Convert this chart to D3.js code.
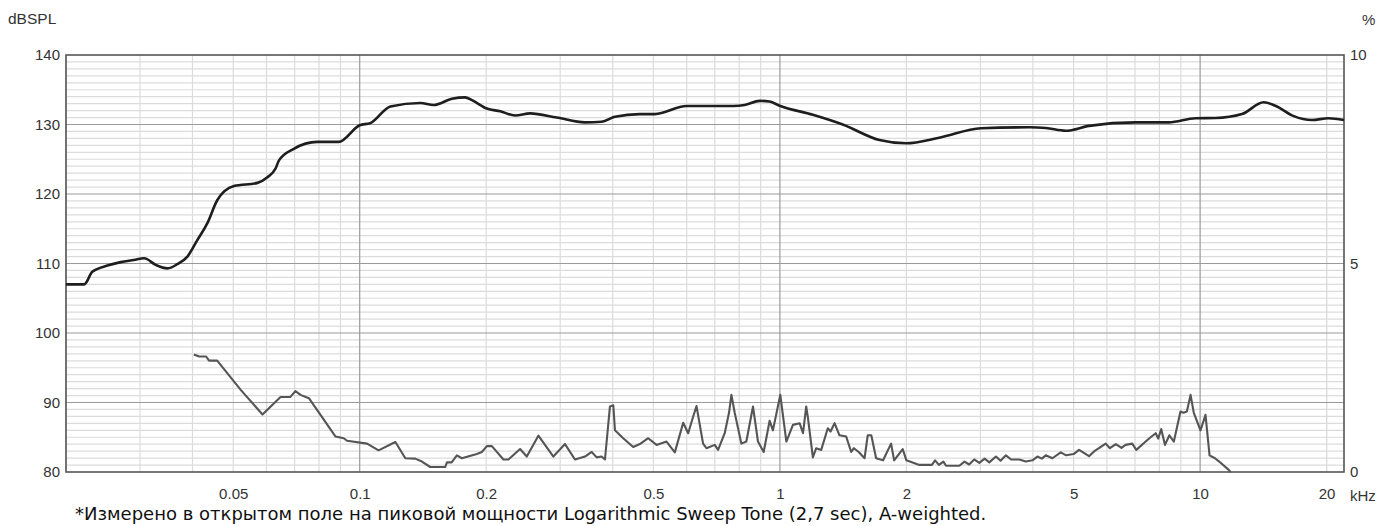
<!DOCTYPE html>
<html>
<head>
<meta charset="utf-8">
<script src="https://cdn.jsdelivr.net/npm/d3@7"></script>
<style>
  body { margin: 0; background: #fff; }
  svg text { font-family: "Liberation Sans", Arial, sans-serif; }
</style>
</head>
<body>
<svg class="chart"></svg>
<script>
const size = {w: 1377, h: 526};
const margin = {top: 55, right: 33, bottom: 54, left: 66};

// frequency response, kHz / dBSPL
const splFreq = [0.02, 0.0221, 0.0231, 0.0251, 0.027, 0.029, 0.0307, 0.0327, 0.0349, 0.0368,
  0.0389, 0.0411, 0.0434, 0.0458, 0.0502, 0.0571, 0.0603, 0.0631, 0.0642, 0.0697,
  0.0792, 0.0891, 0.1, 0.106, 0.1183, 0.1394, 0.15, 0.1658, 0.1782, 0.185,
  0.2007, 0.216, 0.2343, 0.2544, 0.2943, 0.3437, 0.3765, 0.405, 0.4642, 0.504,
  0.5994, 0.7735, 0.8244, 0.895, 0.945, 0.998, 1.198, 1.411, 1.725, 1.996,
  2.394, 3.009, 3.918, 4.293, 4.788, 5.441, 7.022, 8.428, 9.75, 10.88,
  12.58, 14.17, 15.1, 16.7, 18.45, 20.2, 22];
const splDb = [107.0, 107.0, 108.8, 109.7, 110.2, 110.5, 110.75, 109.8, 109.3, 109.9,
  111.0, 113.4, 115.8, 119.1, 121.15, 121.6, 122.4, 123.7, 124.8, 126.5,
  127.5, 127.5, 129.9, 130.2, 132.6, 133.1, 132.8, 133.7, 133.9, 133.5,
  132.3, 131.9, 131.3, 131.6, 131.0, 130.3, 130.4, 131.1, 131.5, 131.5,
  132.66, 132.66, 132.8, 133.4, 133.3, 132.7, 131.4, 130.0, 127.77, 127.3,
  128.1, 129.45, 129.6, 129.5, 129.1, 129.8, 130.3, 130.3, 130.9, 130.93,
  131.5, 133.2, 132.7, 131.2, 130.65, 130.9, 130.65];

// distortion, kHz / %
const thdFreq = [0.0403, 0.0415, 0.0431, 0.0438, 0.0458, 0.0521, 0.0587, 0.0648, 0.0684, 0.0703,
  0.0723, 0.0757, 0.0876, 0.0916, 0.0933, 0.1041, 0.1109, 0.1216, 0.1284, 0.1356,
  0.1406, 0.1472, 0.1598, 0.1613, 0.1655, 0.1703, 0.175, 0.19, 0.1953, 0.2007,
  0.2063, 0.2198, 0.2259, 0.2408, 0.2498, 0.2662, 0.289, 0.308, 0.3253, 0.3437,
  0.3565, 0.3664, 0.3764, 0.3834, 0.394, 0.4013, 0.405, 0.4237, 0.4476, 0.4642,
  0.4859, 0.5086, 0.5373, 0.5622, 0.5886, 0.6049, 0.6217, 0.6332, 0.6564, 0.6686,
  0.6999, 0.7126, 0.739, 0.7566, 0.7666, 0.7806, 0.8096, 0.832, 0.8629, 0.8868,
  0.9149, 0.9452, 0.9625, 1.002, 1.036, 1.074, 1.114, 1.135, 1.155, 1.165,
  1.198, 1.22, 1.254, 1.3, 1.32, 1.349, 1.386, 1.438, 1.478, 1.5,
  1.54, 1.59, 1.618, 1.65, 1.694, 1.76, 1.839, 1.87, 1.96, 2.0,
  2.147, 2.3, 2.34, 2.39, 2.45, 2.485, 2.673, 2.75, 2.82, 2.9,
  2.982, 3.07, 3.15, 3.266, 3.35, 3.45, 3.55, 3.71, 3.85, 3.99,
  4.1, 4.2, 4.293, 4.45, 4.66, 4.8, 5.0, 5.15, 5.3, 5.44,
  5.6, 5.745, 5.96, 6.1, 6.3, 6.5, 6.647, 6.895, 7.05, 7.42,
  7.6, 7.84, 7.95, 8.08, 8.25, 8.45, 8.66, 8.98, 9.13, 9.3,
  9.49, 9.66, 10.02, 10.3, 10.53, 10.85, 11.1, 11.7, 11.81];
const thdPct = [2.82, 2.77, 2.77, 2.67, 2.67, 1.97, 1.38, 1.80, 1.80, 1.94,
  1.85, 1.77, 0.85, 0.81, 0.75, 0.68, 0.52, 0.72, 0.33, 0.32,
  0.25, 0.12, 0.12, 0.23, 0.23, 0.40, 0.33, 0.43, 0.48, 0.62,
  0.62, 0.30, 0.30, 0.55, 0.37, 0.87, 0.37, 0.67, 0.30, 0.37,
  0.48, 0.35, 0.37, 0.30, 1.57, 1.60, 1.00, 0.81, 0.60, 0.67,
  0.81, 0.65, 0.73, 0.47, 1.18, 0.93, 1.33, 1.58, 0.68, 0.57,
  0.65, 0.53, 0.93, 1.42, 1.85, 1.42, 0.68, 0.73, 1.57, 0.73,
  0.48, 1.23, 1.00, 1.85, 0.73, 1.13, 1.17, 0.93, 1.57, 1.33,
  0.35, 0.57, 0.53, 1.05, 0.97, 1.17, 0.88, 0.85, 0.48, 0.57,
  0.48, 0.33, 0.88, 0.88, 0.33, 0.28, 0.68, 0.28, 0.55, 0.28,
  0.17, 0.17, 0.28, 0.17, 0.25, 0.15, 0.15, 0.25, 0.18, 0.30,
  0.22, 0.32, 0.23, 0.37, 0.27, 0.40, 0.30, 0.30, 0.25, 0.28,
  0.37, 0.32, 0.40, 0.33, 0.47, 0.40, 0.43, 0.53, 0.45, 0.38,
  0.50, 0.57, 0.68, 0.57, 0.67, 0.58, 0.65, 0.68, 0.53, 0.73,
  0.82, 0.93, 0.80, 1.03, 0.65, 0.88, 0.73, 1.45, 1.42, 1.45,
  1.85, 1.42, 1.00, 1.37, 0.40, 0.33, 0.25, 0.05, 0.00];

// axis ticks
const dbTicks = [80, 90, 100, 110, 120, 130, 140];
const pctTicks = [0, 5, 10];
const freqLabels = [0.05, 0.1, 0.2, 0.5, 1, 2, 5, 10, 20];
const freqMajor = [0.1, 1, 10];
const footnote = '*Измерено в открытом поле на пиковой мощности Logarithmic Sweep Tone (2,7 sec), A-weighted.';

const svg = d3.select('svg.chart')
    .attr('width', size.w)
    .attr('height', size.h);

const x = d3.scaleLog()
    .domain([0.02, 22])
    .range([margin.left, size.w - margin.right]);
const y = d3.scaleLinear()
    .domain([80, 140])
    .range([size.h - margin.bottom, margin.top]);
const yPct = d3.scaleLinear()
    .domain([0, 10])
    .range([size.h - margin.bottom, margin.top]);

const x0 = x.range()[0], x1 = x.range()[1];
const y0 = y.range()[0], y1 = y.range()[1];

// --- grid ---
const gridG = svg.append('g').classed('grid', true);

// minor frequency lines 0.02..20 kHz
let minorFreq = [];
[0.01, 0.1, 1, 10].forEach(dec => {
    for (let k = 2; k <= 9; k++) {
        const f = dec * k;
        if (f >= 0.02 && f <= 22) minorFreq.push(f);
    }
});
minorFreq.push(20);
minorFreq = minorFreq.filter(f => f < 22);

gridG.selectAll('line.vminor')
    .data(minorFreq)
    .join('line')
    .attr('x1', d => x(d)).attr('x2', d => x(d))
    .attr('y1', y1).attr('y2', y0)
    .attr('stroke', '#dcdcdc')
    .attr('stroke-width', 1.2);

// 1 dB horizontal lines
gridG.selectAll('line.hminor')
    .data(d3.range(81, 140).filter(v => v % 10 !== 0))
    .join('line')
    .attr('x1', x0).attr('x2', x1)
    .attr('y1', d => y(d)).attr('y2', d => y(d))
    .attr('stroke', '#dcdcdc')
    .attr('stroke-width', 1.2);

gridG.selectAll('line.vmajor')
    .data(freqMajor)
    .join('line')
    .attr('x1', d => x(d)).attr('x2', d => x(d))
    .attr('y1', y1).attr('y2', y0)
    .attr('stroke', '#9a9a9a')
    .attr('stroke-width', 1.2);

gridG.selectAll('line.hmajor')
    .data(dbTicks.slice(1, -1))
    .join('line')
    .attr('x1', x0).attr('x2', x1)
    .attr('y1', d => y(d)).attr('y2', d => y(d))
    .attr('stroke', '#9a9a9a')
    .attr('stroke-width', 1.2);

// frame
svg.append('rect')
    .attr('x', x0).attr('y', y1)
    .attr('width', x1 - x0).attr('height', y0 - y1)
    .attr('fill', 'none')
    .attr('stroke', '#555')
    .attr('stroke-width', 1.6);

// --- curves ---
const splLine = d3.line()
    .x((d, i) => x(splFreq[i]))
    .y(d => y(d))
    .curve(d3.curveMonotoneX);

const thdLine = d3.line()
    .x((d, i) => x(thdFreq[i]))
    .y(d => yPct(d));

svg.append('path')
    .datum(thdPct)
    .attr('d', thdLine)
    .attr('fill', 'none')
    .attr('stroke', '#555')
    .attr('stroke-width', 2.1)
    .attr('stroke-linejoin', 'round');

svg.append('path')
    .datum(splDb)
    .attr('d', splLine)
    .attr('fill', 'none')
    .attr('stroke', '#1e1e1e')
    .attr('stroke-width', 2.6)
    .attr('stroke-linejoin', 'round');

// --- axes (labels only) ---
const labelFont = '"Liberation Sans", Arial, sans-serif';

const leftAxis = d3.axisLeft(y).tickValues(dbTicks).tickSize(0).tickPadding(6);
svg.append('g')
    .attr('transform', `translate(${x0},0)`)
    .call(leftAxis)
    .call(g => g.select('.domain').remove())
    .selectAll('text')
    .attr('font-size', 15).attr('fill', '#333')
    .style('font-family', labelFont);

const rightAxis = d3.axisRight(yPct).tickValues(pctTicks).tickSize(0).tickPadding(6);
svg.append('g')
    .attr('transform', `translate(${x1},0)`)
    .call(rightAxis)
    .call(g => g.select('.domain').remove())
    .selectAll('text')
    .attr('font-size', 15).attr('fill', '#333')
    .style('font-family', labelFont);

const bottomAxis = d3.axisBottom(x)
    .tickValues(freqLabels)
    .tickFormat(d => d3.format('~g')(d))
    .tickSize(0).tickPadding(16);
svg.append('g')
    .attr('transform', `translate(0,${y0})`)
    .call(bottomAxis)
    .call(g => g.select('.domain').remove())
    .selectAll('text')
    .attr('font-size', 15).attr('fill', '#333')
    .style('font-family', labelFont);

svg.append('text')
    .attr('x', x1 + 6).attr('y', y0 + 29)
    .attr('font-size', 15).attr('fill', '#333')
    .text('kHz');

svg.append('text')
    .attr('x', 8).attr('y', 24)
    .attr('font-size', 15.5).attr('fill', '#333')
    .text('dBSPL');

svg.append('text')
    .attr('x', 1362).attr('y', 25)
    .attr('font-size', 15).attr('fill', '#333')
    .text('%');

svg.append('text')
    .attr('x', 75).attr('y', 520)
    .attr('font-size', 18).attr('fill', '#111')
    .style('font-family', '"DejaVu Sans", sans-serif')
    .text(footnote);
</script>
</body>
</html>
